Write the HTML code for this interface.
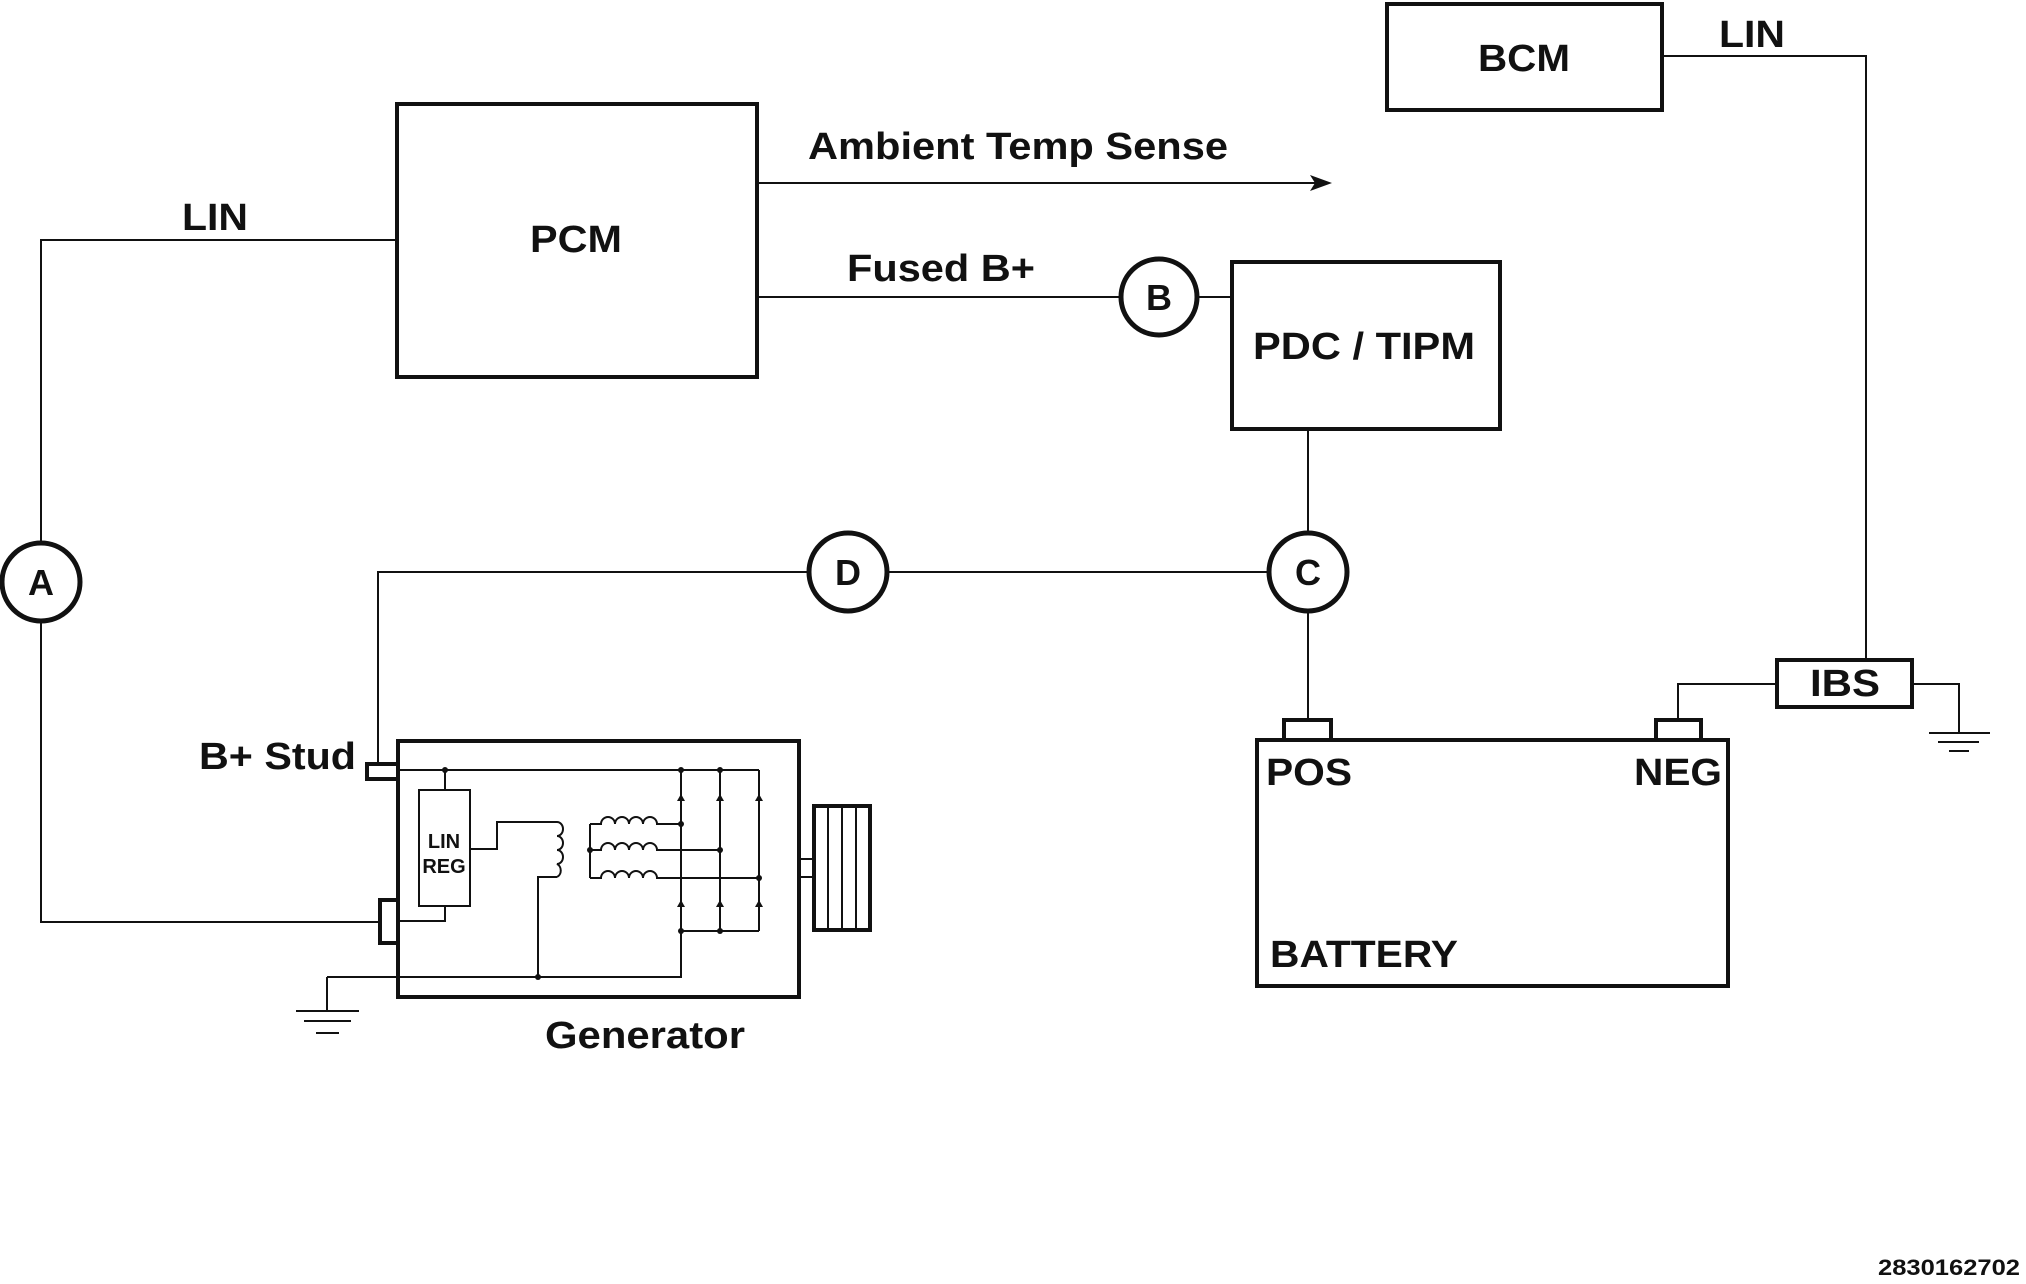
<!DOCTYPE html>
<html><head><meta charset="utf-8"><style>
html,body{margin:0;padding:0;background:#fff;}
svg{display:block;}
text{font-family:"Liberation Sans",Arial,sans-serif;font-weight:bold;fill:#111;}
</style></head><body>
<svg width="2026" height="1284" viewBox="0 0 2026 1284" xmlns="http://www.w3.org/2000/svg">
<g fill="none" stroke="#111">
<rect x="1387" y="4" width="275" height="106" stroke-width="4"/>
<polyline points="1662,56 1866,56 1866,660" stroke-width="2"/>
<rect x="1777" y="660" width="135" height="47" stroke-width="4"/>
<polyline points="1777,684 1678,684 1678,722" stroke-width="2"/>
<polyline points="1912,684 1959,684 1959,733" stroke-width="2"/>
<line x1="1929" y1="733" x2="1990" y2="733" stroke-width="2"/>
<line x1="1938" y1="742" x2="1979" y2="742" stroke-width="2"/>
<line x1="1949" y1="751" x2="1969" y2="751" stroke-width="2"/>
<rect x="1257" y="740" width="471" height="246" stroke-width="4"/>
<rect x="1284" y="720" width="47" height="20" stroke-width="4"/>
<rect x="1656" y="720" width="45" height="20" stroke-width="4"/>
<rect x="397" y="104" width="360" height="273" stroke-width="4"/>
<line x1="757" y1="183" x2="1318" y2="183" stroke-width="2"/>
<line x1="757" y1="297" x2="1120" y2="297" stroke-width="2"/>
<circle cx="1159" cy="297" r="38" stroke-width="5"/>
<line x1="1197" y1="297" x2="1232" y2="297" stroke-width="2"/>
<rect x="1232" y="262" width="268" height="167" stroke-width="4"/>
<line x1="1308" y1="429" x2="1308" y2="533" stroke-width="2"/>
<circle cx="1308" cy="572" r="39" stroke-width="5"/>
<line x1="1308" y1="611" x2="1308" y2="720" stroke-width="2"/>
<circle cx="848" cy="572" r="39" stroke-width="5"/>
<polyline points="1269,572 887,572" stroke-width="2"/>
<polyline points="809,572 378,572 378,765" stroke-width="2"/>
<polyline points="397,240 41,240 41,543" stroke-width="2"/>
<circle cx="41" cy="582" r="39" stroke-width="5"/>
<polyline points="41,621 41,922 380,922" stroke-width="2"/>
<rect x="398" y="741" width="401" height="256" stroke-width="4"/>
<rect x="367" y="764" width="31" height="15" stroke-width="4"/>
<rect x="380" y="900" width="18" height="43" stroke-width="4"/>
<rect x="419" y="790" width="51" height="116" stroke-width="2"/>
<polyline points="398,770 759,770" stroke-width="2"/>
<line x1="445" y1="770" x2="445" y2="790" stroke-width="2"/>
<polyline points="445,906 445,921 398,921" stroke-width="2"/>
<polyline points="470,849 497,849 497,822 557,822" stroke-width="2"/>
<path d="M557,822 a6,7 0 0 1 0,14 a6,7 0 0 1 0,14 a6,7 0 0 1 0,14 a6,7 0 0 1 0,13" stroke-width="2"/>
<polyline points="557,877 538,877 538,977" stroke-width="2"/>
<polyline points="327,977 681,977 681,770" stroke-width="2"/>
<line x1="720" y1="770" x2="720" y2="931" stroke-width="2"/>
<line x1="759" y1="770" x2="759" y2="931" stroke-width="2"/>
<line x1="681" y1="931" x2="759" y2="931" stroke-width="2"/>
<polyline points="590,824 590,878" stroke-width="2"/>
<path d="M590,824 H601 a7,7 0 0 1 14,0 a7,7 0 0 1 14,0 a7,7 0 0 1 14,0 a7,7 0 0 1 14,0 H681" stroke-width="2"/>
<path d="M590,850 H601 a7,7 0 0 1 14,0 a7,7 0 0 1 14,0 a7,7 0 0 1 14,0 a7,7 0 0 1 14,0 H720" stroke-width="2"/>
<path d="M590,878 H601 a7,7 0 0 1 14,0 a7,7 0 0 1 14,0 a7,7 0 0 1 14,0 a7,7 0 0 1 14,0 H759" stroke-width="2"/>
<polyline points="327,977 327,1011" stroke-width="2"/>
<line x1="296" y1="1011" x2="359" y2="1011" stroke-width="2"/>
<line x1="304" y1="1021" x2="351" y2="1021" stroke-width="2"/>
<line x1="316" y1="1033" x2="339" y2="1033" stroke-width="2"/>
<rect x="814" y="806" width="56" height="124" stroke-width="4"/>
<line x1="828" y1="806" x2="828" y2="930" stroke-width="2"/>
<line x1="842" y1="806" x2="842" y2="930" stroke-width="2"/>
<line x1="856" y1="806" x2="856" y2="930" stroke-width="2"/>
<line x1="799" y1="859" x2="814" y2="859" stroke-width="2"/>
<line x1="799" y1="877" x2="814" y2="877" stroke-width="2"/>
</g>
<g fill="#111">
<polygon points="1332,183 1310,175 1315,183 1310,191"/>
<circle cx="445" cy="770" r="3"/><circle cx="681" cy="770" r="3"/><circle cx="720" cy="770" r="3"/>
<circle cx="681" cy="824" r="3"/><circle cx="720" cy="850" r="3"/><circle cx="759" cy="878" r="3"/>
<circle cx="590" cy="850" r="3"/><circle cx="538" cy="977" r="3"/>
<circle cx="681" cy="931" r="3"/><circle cx="720" cy="931" r="3"/>
<polygon points="677,801 685,801 681,794"/><polygon points="716,801 724,801 720,794"/><polygon points="755,801 763,801 759,794"/>
<polygon points="677,907 685,907 681,900"/><polygon points="716,907 724,907 720,900"/><polygon points="755,907 763,907 759,900"/>
</g>
<text x="1524" y="71" font-size="38" text-anchor="middle" textLength="92" lengthAdjust="spacingAndGlyphs">BCM</text>
<text x="1719" y="47" font-size="38" textLength="66" lengthAdjust="spacingAndGlyphs">LIN</text>
<text x="1845" y="696" font-size="38" text-anchor="middle" textLength="70" lengthAdjust="spacingAndGlyphs">IBS</text>
<text x="1266" y="785" font-size="38" textLength="86" lengthAdjust="spacingAndGlyphs">POS</text>
<text x="1634" y="785" font-size="38" textLength="88" lengthAdjust="spacingAndGlyphs">NEG</text>
<text x="1270" y="967" font-size="38" textLength="188" lengthAdjust="spacingAndGlyphs">BATTERY</text>
<text x="576" y="252" font-size="38" text-anchor="middle" textLength="92" lengthAdjust="spacingAndGlyphs">PCM</text>
<text x="808" y="159" font-size="38" textLength="420" lengthAdjust="spacingAndGlyphs">Ambient Temp Sense</text>
<text x="847" y="281" font-size="38" textLength="188" lengthAdjust="spacingAndGlyphs">Fused B+</text>
<text x="1159" y="310" font-size="36" text-anchor="middle">B</text>
<text x="1364" y="359" font-size="38" text-anchor="middle" textLength="222" lengthAdjust="spacingAndGlyphs">PDC / TIPM</text>
<text x="1308" y="585" font-size="36" text-anchor="middle">C</text>
<text x="848" y="585" font-size="36" text-anchor="middle">D</text>
<text x="41" y="595" font-size="36" text-anchor="middle">A</text>
<text x="182" y="230" font-size="38" textLength="66" lengthAdjust="spacingAndGlyphs">LIN</text>
<text x="199" y="769" font-size="38" textLength="157" lengthAdjust="spacingAndGlyphs">B+ Stud</text>
<text x="444" y="848" font-size="20" text-anchor="middle">LIN</text>
<text x="444" y="873" font-size="20" text-anchor="middle">REG</text>
<text x="645" y="1048" font-size="38" text-anchor="middle" textLength="200" lengthAdjust="spacingAndGlyphs">Generator</text>
<text x="2020" y="1275" font-size="22" text-anchor="end" textLength="142" lengthAdjust="spacingAndGlyphs">2830162702</text>
</svg>
</body></html>
